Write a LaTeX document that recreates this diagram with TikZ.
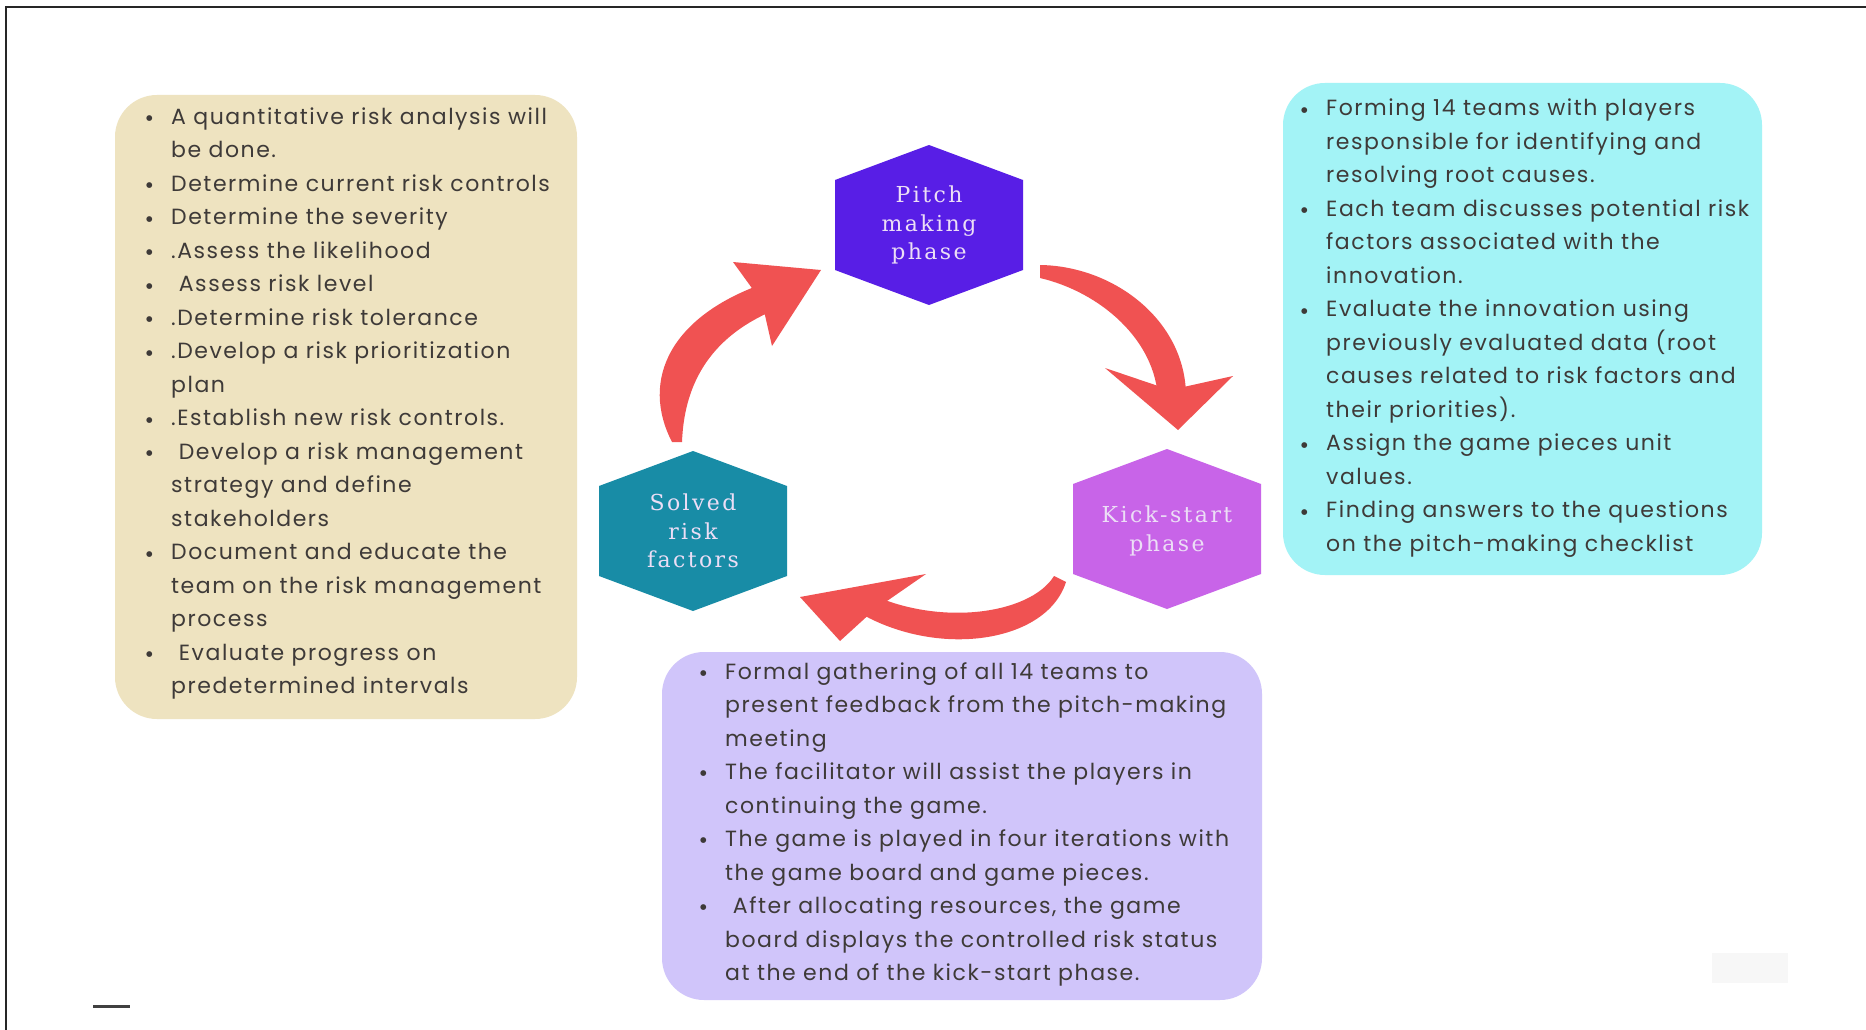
\documentclass[tikz,border=0pt]{standalone}
\usepackage{fontspec}
\usepackage{array}
\setmainfont{Poppins}[LetterSpace=7]
\newfontfamily\hexfont{DejaVu Serif}[LetterSpace=11]
\newfontfamily\dotfont{DejaVu Sans}

\definecolor{beigebox}{RGB}{238,227,192}
\definecolor{cyanbox}{RGB}{163,243,246}
\definecolor{lilacbox}{RGB}{208,197,250}
\definecolor{pitchcol}{RGB}{88,30,230}
\definecolor{kickcol}{RGB}{200,100,232}
\definecolor{solvedcol}{RGB}{24,140,166}
\definecolor{arrowred}{RGB}{240,82,82}
\definecolor{bodytext}{RGB}{62,58,56}
\definecolor{hexlabel}{RGB}{236,222,246}

\newcommand\bul{\raisebox{0.18em}{\dotfont\fontsize{7.5}{7.5}\selectfont ●}}
\newcommand\lead{\hspace{0.35em}}

\tikzset{
  listbox/.style={rounded corners=42pt},
  listtext/.style={anchor=base west, inner sep=0pt, text=bodytext,
    font=\fontsize{22}{33.5}\selectfont},
  hexlab/.style={align=center, inner sep=0pt, text=hexlabel,
    font=\hexfont\fontsize{22}{28.5}\selectfont},
  hexa/.pic={\fill (0,-80) -- (94,-45) -- (94,45) -- (0,80) -- (-94,45) -- (-94,-45) -- cycle;},
  bigarrow/.style={fill=arrowred}
}

\begin{document}
\begin{tikzpicture}[x=1pt,y=-1pt]
\useasboundingbox (0,0) rectangle (1866,1030);
\fill[white] (0,0) rectangle (1866,1030);

% frame lines along the top and left edges
\draw[line width=1.6pt, black!85] (1866,7) -- (6,7) -- (6,1030);

% text panels
\fill[beigebox, listbox] (115,95) rectangle (577,719);
\fill[cyanbox, listbox] (1283,83) rectangle (1762,575);
\fill[lilacbox, listbox] (662,652) rectangle (1262,1000);

\node[listtext] (risklist) at (146,124.5) {\begin{tabular}[t]{@{}p{25pt}@{}l@{}}
\bul & A quantitative risk analysis will\\
     & be done.\\
\bul & Determine current risk controls\\
\bul & Determine the severity\\
\bul & .Assess the likelihood\\
\bul & \lead Assess risk level\\
\bul & .Determine risk tolerance\\
\bul & .Develop a risk prioritization\\
     & plan\\
\bul & .Establish new risk controls.\\
\bul & \lead Develop a risk management\\
     & strategy and define\\
     & stakeholders\\
\bul & Document and educate the\\
     & team on the risk management\\
     & process\\
\bul & \lead Evaluate progress on\\
     & predetermined intervals
\end{tabular}};

\node[listtext] (pitchlist) at (1301,116) {\begin{tabular}[t]{@{}p{25pt}@{}l@{}}
\bul & Forming 14 teams with players\\
     & responsible for identifying and\\
     & resolving root causes.\\
\bul & Each team discusses potential risk\\
     & factors associated with the\\
     & innovation.\\
\bul & Evaluate the innovation using\\
     & previously evaluated data (root\\
     & causes related to risk factors and\\
     & their priorities).\\
\bul & Assign the game pieces unit\\
     & values.\\
\bul & Finding answers to the questions\\
     & on the pitch-making checklist
\end{tabular}};

\node[listtext] (kicklist) at (700,679) {\begin{tabular}[t]{@{}p{25pt}@{}l@{}}
\bul & Formal gathering of all 14 teams to\\
     & present feedback from the pitch-making\\
     & meeting\\
\bul & The facilitator will assist the players in\\
     & continuing the game.\\
\bul & The game is played in four iterations with\\
     & the game board and game pieces.\\
\bul & \lead After allocating resources, the game\\
     & board displays the controlled risk status\\
     & at the end of the kick-start phase.
\end{tabular}};

% phase hexagons
\pic[pitchcol] at (929,225) {hexa};
\pic[kickcol] at (1167,529) {hexa};
\pic[solvedcol] at (693,531) {hexa};
\node[hexlab] (pitch) at (929,225) {Pitch\\making\\phase};
\node[hexlab] (kick) at (1167,531) {Kick-start\\phase};
\node[hexlab] (solved) at (693,531) {Solved\\risk\\factors};

% curved cycle arrows: tapered shaft running into a notched head
% pitch -> kick-start
\fill[bigarrow] (1040,265) .. controls (1115,266) and (1188,322) .. (1186,400)
  -- (1158,400) .. controls (1156,340) and (1100,292) .. (1040,278) -- cycle;
\fill[bigarrow] (1178,430) -- (1105,368) -- (1170,390) -- (1233,376) -- cycle;
% kick-start -> solved
\fill[bigarrow] (1066,582) .. controls (1046,645) and (930,660) .. (850,607)
  -- (862,590) .. controls (935,628) and (1030,615) .. (1054,576) -- cycle;
\fill[bigarrow] (800,597) -- (926,574) -- (874,610) -- (840,641) -- cycle;
% solved -> pitch
\fill[bigarrow] (672,442) .. controls (640,380) and (670,315) .. (768,282)
  -- (777,309) .. controls (705,338) and (684,390) .. (682,442) -- cycle;
\fill[bigarrow] (821,270) -- (733,262) -- (762,302) -- (772,346) -- cycle;

% small marks near the lower corners
\draw[line width=3pt, black!75] (93,1006) -- (130,1006);
\fill[black!3] (1712,953) rectangle (1788,983);
\end{tikzpicture}
\end{document}
